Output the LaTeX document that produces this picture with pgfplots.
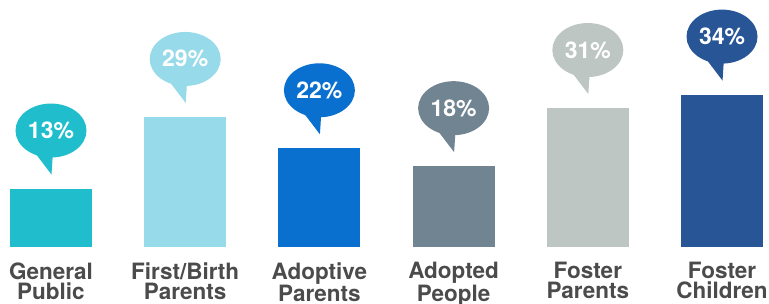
\documentclass[border=0pt]{standalone}
\usepackage{fontspec}
\setmainfont{TeX Gyre Heros}
\usepackage{pgfplots}
\pgfplotsset{compat=1.18}
\definecolor{cGP}{RGB}{32,190,204}
\definecolor{cFB}{RGB}{151,218,234}
\definecolor{cAP}{RGB}{10,112,207}
\definecolor{cAD}{RGB}{113,132,146}
\definecolor{cFP}{RGB}{190,198,195}
\definecolor{cFC}{RGB}{39,85,150}
\definecolor{labgray}{RGB}{75,75,75}
\pgfdeclareplotmark{bubble}{%
  \pgfpathellipse{\pgfpoint{0pt}{58pt}}{\pgfpoint{35.5pt}{0pt}}{\pgfpoint{0pt}{27pt}}%
  \pgfusepathqfill
  \pgfpathmoveto{\pgfpoint{-17pt}{37pt}}%
  \pgfpathlineto{\pgfpoint{0.5pt}{14pt}}%
  \pgfpathlineto{\pgfpoint{2pt}{37pt}}%
  \pgfpathclose
  \pgfusepathqfill}
\newcommand{\bubblebar}[3]{%
  \addplot[ybar, bar width=82pt, bar shift=0pt, fill=#3, draw=none] coordinates {(#1,#2)};
  \addplot[only marks, mark=bubble, mark options={fill=#3, draw=none},
    point meta=explicit symbolic, nodes near coords,
    nodes near coords style={anchor=base, yshift=50pt, inner sep=0pt, text=white,
      font=\fontsize{23}{23}\selectfont\bfseries}]
    coordinates {(#1,#2) [#2\%]};
}
\begin{document}
\begin{tikzpicture}
\begin{axis}[
  at={(0,0)}, anchor=south west,
  scale only axis, width=769pt, height=246.7pt,
  xmin=-0.380, xmax=5.350, ymin=0, ymax=55.15,
  clip=false,
  axis line style={draw=none}, tick style={draw=none},
  ytick=\empty,
  xtick={0,1,2,3,4,5},
  xticklabels={General\\Public, First/Birth\\Parents, Adoptive\\Parents, Adopted\\People, Foster\\Parents, Foster\\Children},
  xticklabel style={align=center, anchor=north, inner sep=0pt, yshift=-15.5pt,
    text=labgray, font=\fontsize{22.5}{20}\selectfont\bfseries},
]
\bubblebar{0}{13}{cGP}
\bubblebar{1}{29}{cFB}
\bubblebar{2}{22}{cAP}
\bubblebar{3}{18}{cAD}
\bubblebar{4}{31}{cFP}
\bubblebar{5}{34}{cFC}
\end{axis}
\pgfresetboundingbox
\useasboundingbox (0,-57.3pt) rectangle (769pt,246.7pt);
\end{tikzpicture}
\end{document}
